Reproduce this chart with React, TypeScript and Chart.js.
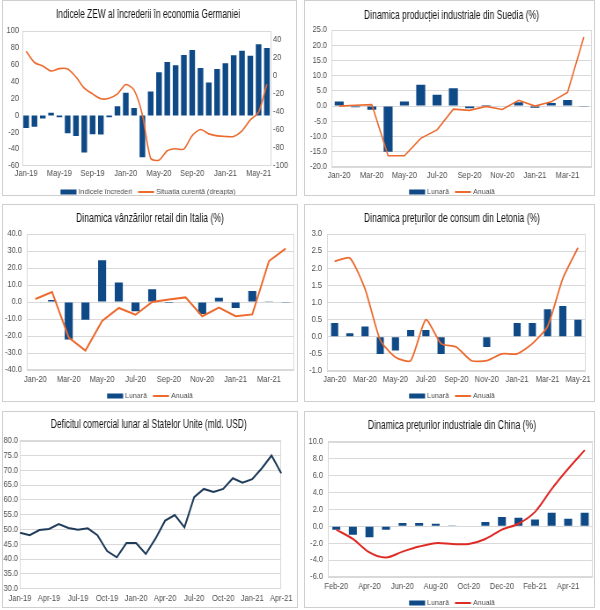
import React, { useEffect, useRef } from "react";
import { Chart, registerables } from "chart.js";

Chart.register(...registerables);

// ---------- data ----------
const zewLabels = ["Jan-19","Feb-19","Mar-19","Apr-19","May-19","Jun-19","Jul-19","Aug-19","Sep-19","Oct-19","Nov-19","Dec-19","Jan-20","Feb-20","Mar-20","Apr-20","May-20","Jun-20","Jul-20","Aug-20","Sep-20","Oct-20","Nov-20","Dec-20","Jan-21","Feb-21","Mar-21","Apr-21","May-21","Jun-21"];
const zewConfidence = [-15.0, -13.4, -3.6, 3.1, -2.1, -21.1, -24.5, -44.1, -22.5, -22.8, -2.1, 10.7, 26.7, 8.7, -49.5, 28.2, 51.0, 63.4, 59.3, 71.5, 77.4, 56.1, 39.0, 55.0, 61.8, 71.2, 76.6, 70.7, 84.4, 79.8];
const zewCurrent = [27.6, 15.0, 11.1, 5.5, 8.2, 7.8, -1.1, -13.5, -19.9, -25.3, -24.7, -19.9, -9.5, -15.7, -43.1, -91.5, -93.5, -83.1, -80.9, -81.3, -66.2, -59.5, -64.3, -66.5, -67.2, -67.2, -61.0, -48.8, -40.1, -9.1];
const zewNames = ["Indicele încrederi", "Situația curentă (dreapta)"];

const sweLabels = ["Jan-20","Feb-20","Mar-20","Apr-20","May-20","Jun-20","Jul-20","Aug-20","Sep-20","Oct-20","Nov-20","Dec-20","Jan-21","Feb-21","Mar-21","Apr-21"];
const sweMonthly = [1.5, -0.4, -1.2, -15.0, 1.5, 7.0, 3.7, 5.9, -0.7, 0.4, 0.2, 1.3, -0.5, 1.0, 2.0, -0.2];
const sweAnnual = [0.0, 0.3, 0.5, -16.3, -16.3, -10.6, -7.8, -1.0, -1.4, -0.1, -1.1, 1.9, 0.0, 1.4, 4.5, 22.7];

const itaLabels = ["Jan-20","Feb-20","Mar-20","Apr-20","May-20","Jun-20","Jul-20","Aug-20","Sep-20","Oct-20","Nov-20","Dec-20","Jan-21","Feb-21","Mar-21","Apr-21"];
const itaMonthly = [-0.3, 1.2, -22.0, -10.5, 24.5, 11.5, -5.5, 7.5, -0.6, 0.0, -7.0, 2.5, -3.5, 6.5, 0.1, -0.5];
const itaAnnual = [1.8, 5.9, -21.0, -28.6, -11.2, -3.5, -7.5, 0.0, 1.5, 2.7, -8.4, -3.3, -8.4, -7.3, 24.1, 31.4];

const lvaLabels = ["Jan-20","Feb-20","Mar-20","Apr-20","May-20","Jun-20","Jul-20","Aug-20","Sep-20","Oct-20","Nov-20","Dec-20","Jan-21","Feb-21","Mar-21","Apr-21","May-21"];
const lvaMonthly = [0.4, 0.1, 0.3, -0.5, -0.4, 0.2, 0.2, -0.5, 0.0, 0.0, -0.3, 0.0, 0.4, 0.4, 0.8, 0.9, 0.5];
const lvaAnnual = [2.2, 2.3, 1.4, -0.1, -0.6, -0.7, 0.5, -0.2, -0.3, -0.7, -0.7, -0.5, -0.5, -0.2, 0.3, 1.7, 2.6];

const usLabels = ["Jan-19","Feb-19","Mar-19","Apr-19","May-19","Jun-19","Jul-19","Aug-19","Sep-19","Oct-19","Nov-19","Dec-19","Jan-20","Feb-20","Mar-20","Apr-20","May-20","Jun-20","Jul-20","Aug-20","Sep-20","Oct-20","Nov-20","Dec-20","Jan-21","Feb-21","Mar-21","Apr-21"];
const usDeficit = [48.9, 48.1, 49.8, 50.2, 51.8, 50.5, 49.9, 50.4, 48.1, 42.7, 40.6, 45.4, 45.4, 41.7, 46.9, 53.0, 54.9, 50.7, 60.9, 63.7, 62.7, 63.7, 67.3, 65.8, 67.0, 70.7, 75.0, 69.0];

const chnLabels = ["Feb-20","Mar-20","Apr-20","May-20","Jun-20","Jul-20","Aug-20","Sep-20","Oct-20","Nov-20","Dec-20","Jan-21","Feb-21","Mar-21","Apr-21","May-21"];
const chnMonthly = [-0.4, -1.0, -1.3, -0.4, 0.4, 0.4, 0.3, 0.1, 0.0, 0.5, 1.1, 1.0, 0.8, 1.6, 0.9, 1.6];
const chnAnnual = [-0.4, -1.5, -3.1, -3.7, -3.0, -2.4, -2.0, -2.1, -2.1, -1.5, -0.4, 0.3, 1.7, 4.4, 6.8, 9.0];

const pctNames = ["Lunară", "Anuală"];

// ---------- style ----------
const FONT = '"Liberation Sans", Arial, sans-serif';
const K = 0.88; // horizontal condensation of the whole chart canvas
const TICK_SIZE = 8.5;
const TITLE_SIZE = 13;
const LEG_SIZE = 8;
const BLUE = "#0F4A87";
const ORANGE = "#EC6A2E";
const RED = "#DE2B26";
const NAVY = "#1F3B5A";
const GRID = "#D9D9D9";
const TICK = "#4D4D4D";

const X = (v: number) => v / K;

type Spec = {
  frame: { left: number; top: number; width: number; height: number };
  plot: { l: number; r: number; t: number; b: number };
  labels: string[];
  bars?: number[];
  line: number[];
  names?: string[];
  lineColor: string;
  lineWidth: number;
  tension: number;
  barPct?: number;
  every: number;
  y: { min: number; max: number; step: number; dec: number; grid: boolean; gap: number };
  y2?: { min: number; max: number; step: number; gap: number; hide: number };
  xLabelY: number;
  offset: boolean;
  title: string;
  titleX: number;
  titleY: number;
  titleW: number;
  legendX?: number;
  legendY?: number;
};

function makeDeco(s: Spec) {
  return {
    id: "deco",
    beforeDatasetsDraw(chart: any) {
      const { ctx, chartArea: a } = chart;
      ctx.save();
      ctx.strokeStyle = GRID;
      ctx.lineWidth = 1;
      const l = Math.round(a.left) + 0.5;
      const t = Math.round(a.top) + 0.5;
      const r = Math.round(a.right) - 0.5;
      const b = Math.round(a.bottom) - 0.5;
      ctx.strokeRect(l, t, r - l, b - t);
      ctx.restore();
    },
    afterDraw(chart: any) {
      const ctx = chart.ctx as CanvasRenderingContext2D;
      ctx.save();
      ctx.font = `${TITLE_SIZE}px ${FONT}`;
      const tw = ctx.measureText(s.title).width;
      ctx.translate(X(s.titleX), s.titleY);
      ctx.scale(X(s.titleW) / tw, 1);
      ctx.fillStyle = "#111111";
      ctx.textAlign = "center";
      ctx.textBaseline = "middle";
      ctx.fillText(s.title, 0, 0);
      ctx.restore();

      if (s.names && s.legendY !== undefined && s.legendX !== undefined) {
        ctx.save();
        ctx.font = `${LEG_SIZE}px ${FONT}`;
        const items = [
          { kind: "bar", color: BLUE, text: s.names[0] },
          { kind: "line", color: s.lineColor, text: s.names[1] },
        ];
        const widths = items.map((it) => ctx.measureText(it.text).width);
        const SYM = X(16), G1 = X(2), G2 = X(6);
        const total = widths.reduce((acc, w) => acc + SYM + G1 + w, 0) + G2 * (items.length - 1);
        let x = X(s.legendX) - total / 2;
        const y = s.legendY;
        items.forEach((it, i) => {
          if (it.kind === "bar") {
            ctx.fillStyle = it.color;
            ctx.fillRect(x, y - 2.5, SYM, 5);
          } else {
            ctx.strokeStyle = it.color;
            ctx.lineWidth = 2;
            ctx.beginPath();
            ctx.moveTo(x, y);
            ctx.lineTo(x + SYM, y);
            ctx.stroke();
          }
          x += SYM + G1;
          ctx.fillStyle = TICK;
          ctx.textAlign = "left";
          ctx.textBaseline = "middle";
          ctx.fillText(it.text, x, y);
          x += widths[i] + G2;
        });
        ctx.restore();
      }
    },
  };
}

function buildConfig(s: Spec): any {
  const W = X(s.frame.width - 2);
  const H = s.frame.height - 2;
  const tickFont = { family: FONT, size: TICK_SIZE };
  const datasets: any[] = [];
  if (s.bars) {
    datasets.push({
      type: "bar",
      data: s.bars,
      backgroundColor: BLUE,
      barPercentage: s.barPct,
      categoryPercentage: 1,
      order: 2,
      yAxisID: "y",
    });
  }
  datasets.push({
    type: "line",
    data: s.line,
    borderColor: s.lineColor,
    backgroundColor: s.lineColor,
    borderWidth: s.lineWidth,
    pointRadius: 0,
    tension: s.tension,
    fill: false,
    order: 1,
    yAxisID: s.y2 ? "y2" : "y",
  });
  const scales: any = {
    x: {
      offset: s.offset,
      grid: { display: false, drawTicks: false },
      border: { display: false },
      ticks: {
        autoSkip: false,
        maxRotation: 0,
        minRotation: 0,
        font: tickFont,
        color: TICK,
        padding: s.xLabelY - s.plot.b - TICK_SIZE * 0.6,
        callback: function (this: any, v: any, i: number) {
          return i % s.every === 0 ? this.getLabelForValue(v) : "";
        },
      },
      afterFit: (sc: any) => {
        sc.height = H - s.plot.b;
      },
    },
    y: {
      min: s.y.min,
      max: s.y.max,
      grid: { display: s.y.grid, color: GRID, drawTicks: false, lineWidth: 1 },
      border: { display: false },
      ticks: {
        stepSize: s.y.step,
        includeBounds: false,
        font: tickFont,
        color: TICK,
        padding: X(s.y.gap),
        callback: (v: number) => v.toFixed(s.y.dec),
      },
      afterFit: (sc: any) => {
        sc.width = X(s.plot.l);
      },
    },
  };
  if (s.y2) {
    const y2 = s.y2;
    scales.y2 = {
      position: "right",
      min: y2.min,
      max: y2.max,
      grid: { display: false, drawTicks: false },
      border: { display: false },
      ticks: {
        stepSize: y2.step,
        includeBounds: false,
        font: tickFont,
        color: TICK,
        padding: X(y2.gap),
        callback: (v: number) => (v === y2.hide ? "" : String(Math.round(v))),
      },
      afterFit: (sc: any) => {
        sc.width = W - X(s.plot.r);
      },
    };
  }
  return {
    type: s.bars ? "bar" : "line",
    data: { labels: s.labels, datasets },
    options: {
      responsive: true,
      maintainAspectRatio: false,
      animation: false,
      events: [],
      layout: {
        autoPadding: false,
        padding: { left: 0, top: s.plot.t, right: s.y2 ? 0 : W - X(s.plot.r), bottom: 0 },
      },
      plugins: {
        legend: { display: false },
        title: { display: false },
        tooltip: { enabled: false },
      },
      scales,
    },
    plugins: [makeDeco(s)],
  };
}

const specs: Spec[] = [
  {
    frame: { left: 2, top: 0, width: 295, height: 196 },
    plot: { l: 19, r: 268, t: 30, b: 165 },
    labels: zewLabels,
    bars: zewConfidence,
    line: zewCurrent,
    names: zewNames,
    lineColor: ORANGE,
    lineWidth: 1.6,
    tension: 0.25,
    barPct: 0.68,
    every: 4,
    y: { min: -60, max: 100, step: 20, dec: 0, grid: false, gap: 3 },
    y2: { min: -100, max: 50, step: 20, gap: 2, hide: 50 },
    xLabelY: 173,
    offset: true,
    title: "Indicele ZEW al încrederii în economia Germaniei",
    titleX: 145,
    titleY: 13,
    titleW: 184,
    legendX: 145,
    legendY: 191,
  },
  {
    frame: { left: 304, top: 0, width: 291, height: 196 },
    plot: { l: 26, r: 287, t: 29, b: 166 },
    labels: sweLabels,
    bars: sweMonthly,
    line: sweAnnual,
    names: pctNames,
    lineColor: ORANGE,
    lineWidth: 1.6,
    tension: 0,
    barPct: 0.55,
    every: 2,
    y: { min: -20, max: 25, step: 5, dec: 1, grid: true, gap: 4 },
    xLabelY: 175,
    offset: true,
    title: "Dinamica producției industriale din Suedia (%)",
    titleX: 146.5,
    titleY: 14,
    titleW: 175,
    legendX: 147,
    legendY: 191,
  },
  {
    frame: { left: 2, top: 204, width: 296, height: 198 },
    plot: { l: 24, r: 291, t: 29, b: 165 },
    labels: itaLabels,
    bars: itaMonthly,
    line: itaAnnual,
    names: pctNames,
    lineColor: ORANGE,
    lineWidth: 2,
    tension: 0,
    barPct: 0.48,
    every: 2,
    y: { min: -40, max: 40, step: 10, dec: 1, grid: true, gap: 5 },
    xLabelY: 175,
    offset: true,
    title: "Dinamica vânzărilor retail din Italia (%)",
    titleX: 147,
    titleY: 13,
    titleW: 148,
    legendX: 147,
    legendY: 191,
  },
  {
    frame: { left: 304, top: 204, width: 291, height: 198 },
    plot: { l: 22, r: 285, t: 29, b: 166 },
    labels: lvaLabels,
    bars: lvaMonthly,
    line: lvaAnnual,
    names: pctNames,
    lineColor: ORANGE,
    lineWidth: 1.75,
    tension: 0.2,
    barPct: 0.47,
    every: 2,
    y: { min: -1, max: 3, step: 0.5, dec: 1, grid: true, gap: 5 },
    xLabelY: 175,
    offset: true,
    title: "Dinamica prețurilor de consum din Letonia (%)",
    titleX: 147,
    titleY: 13,
    titleW: 176,
    legendX: 147,
    legendY: 191,
  },
  {
    frame: { left: 2, top: 411, width: 296, height: 197 },
    plot: { l: 17, r: 279, t: 28.7, b: 176.7 },
    labels: usLabels,
    line: usDeficit,
    lineColor: NAVY,
    lineWidth: 2,
    tension: 0,
    every: 3,
    y: { min: 30, max: 80, step: 5, dec: 1, grid: true, gap: 2 },
    xLabelY: 187,
    offset: false,
    title: "Deficitul comercial lunar al Statelor Unite (mld. USD)",
    titleX: 145.7,
    titleY: 12,
    titleW: 196,
  },
  {
    frame: { left: 304, top: 411, width: 291, height: 197 },
    plot: { l: 23, r: 288, t: 29.7, b: 165 },
    labels: chnLabels,
    bars: chnMonthly,
    line: chnAnnual,
    names: pctNames,
    lineColor: RED,
    lineWidth: 2,
    tension: 0.3,
    barPct: 0.48,
    every: 2,
    y: { min: -6, max: 10, step: 2, dec: 1, grid: true, gap: 5 },
    xLabelY: 175,
    offset: true,
    title: "Dinamica prețurilor industriale din China (%)",
    titleX: 147,
    titleY: 13,
    titleW: 168,
    legendX: 147,
    legendY: 191,
  },
];

function Panel({ spec }: { spec: Spec }) {
  const ref = useRef<HTMLCanvasElement>(null);
  useEffect(() => {
    if (!ref.current) return;
    const chart = new Chart(ref.current, buildConfig(spec));
    return () => chart.destroy();
  }, [spec]);
  const f = spec.frame;
  return (
    <div
      style={{
        position: "absolute",
        left: f.left,
        top: f.top,
        width: f.width,
        height: f.height,
        border: "1px solid #CFCFCF",
        boxSizing: "border-box",
        background: "#fff",
        overflow: "hidden",
      }}
    >
      <div
        style={{
          position: "relative",
          width: X(f.width - 2),
          height: f.height - 2,
          transform: `scaleX(${K})`,
          transformOrigin: "0 0",
        }}
      >
        <canvas ref={ref} />
      </div>
    </div>
  );
}

export default function App() {
  return (
    <div style={{ position: "absolute", left: 0, top: 0, width: 600, height: 610, background: "#fff" }}>
      {specs.map((s, i) => (
        <Panel key={i} spec={s} />
      ))}
    </div>
  );
}
